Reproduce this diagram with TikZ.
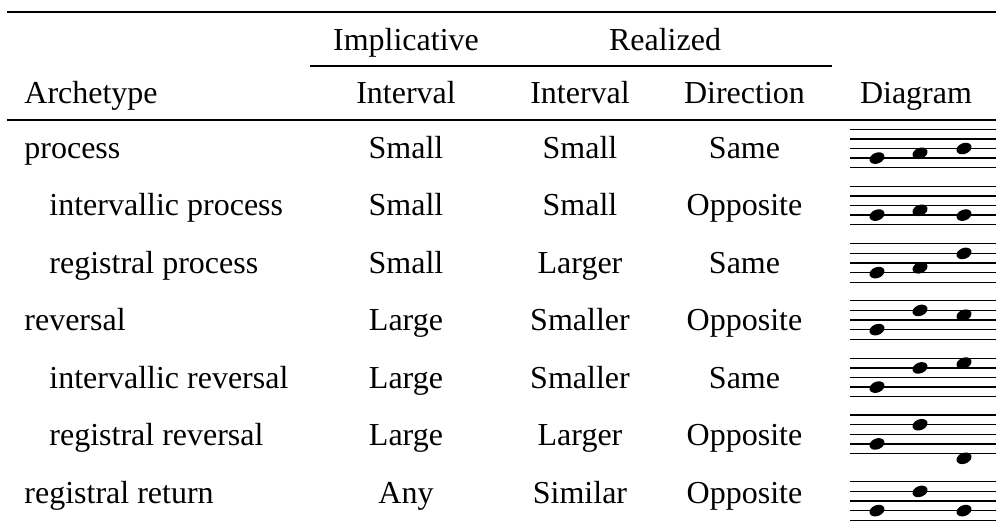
\documentclass[tikz,border=0pt]{standalone}
\usepackage{fontspec}
\setmainfont{Liberation Serif}
\usepackage{tikz}
\tikzset{
  cell/.style={anchor=base, inner sep=0pt, font=\fontsize{16}{19}\selectfont},
  leftcell/.style={cell, anchor=base west},
  tablerule/.style={line width=1pt},
  midrule/.style={line width=0.8pt},
  staffline/.style={line width=0.65pt}
}
% staff: centre y, then the three note positions (0 = bottom line)
\newcommand{\notestaff}[4]{%
  \foreach \k in {0,...,4} {\draw[staffline] (850,#1+\k*9.6-19.2) -- (996,#1+\k*9.6-19.2);}
  \fill[shift={(877,#1+19.2-#2*4.8)},rotate=22] (0,0) ellipse (3.9pt and 2.7pt);
  \fill[shift={(920,#1+19.2-#3*4.8)},rotate=22] (0,0) ellipse (3.9pt and 2.7pt);
  \fill[shift={(964,#1+19.2-#4*4.8)},rotate=22] (0,0) ellipse (3.9pt and 2.7pt);
}

\begin{document}
\begin{tikzpicture}[x=0.5pt,y=-0.5pt]
    \useasboundingbox (0,0) rectangle (996,527);

    % Rules
    \draw[tablerule] (7,12.3) -- (996,12.3);
    \draw[midrule] (310,65.7) -- (832,65.7);
    \draw[tablerule] (7,120) -- (996,120);

    % Header
    \node[cell] (himp) at (406,50) {Implicative};
    \node[cell] (hreal) at (665,50) {Realized};
    \node[leftcell] (harch) at (24,103) {Archetype};
    \node[cell] (himpint) at (406,103) {Interval};
    \node[cell] (hrealint) at (580,103) {Interval};
    \node[cell] (hdir) at (744.5,103) {Direction};
    \node[cell] (hdiag) at (916,103) {Diagram};

    % process
    \node[leftcell] (arch1) at (24,158) {process};
    \node[cell] (imp1) at (406,158) {Small};
    \node[cell] (int1) at (580,158) {Small};
    \node[cell] (dir1) at (744.5,158) {Same};
    \notestaff{148.5}{2}{3}{4}

    % intervallic process
    \node[leftcell] (arch2) at (49,215.5) {intervallic process};
    \node[cell] (imp2) at (406,215.5) {Small};
    \node[cell] (int2) at (580,215.5) {Small};
    \node[cell] (dir2) at (744.5,215.5) {Opposite};
    \notestaff{205.5}{2}{3}{2}

    % registral process
    \node[leftcell] (arch3) at (49,273) {registral process};
    \node[cell] (imp3) at (406,273) {Small};
    \node[cell] (int3) at (580,273) {Larger};
    \node[cell] (dir3) at (744.5,273) {Same};
    \notestaff{263}{2}{3}{6}

    % reversal
    \node[leftcell] (arch4) at (24,330.5) {reversal};
    \node[cell] (imp4) at (406,330.5) {Large};
    \node[cell] (int4) at (580,330.5) {Smaller};
    \node[cell] (dir4) at (744.5,330.5) {Opposite};
    \notestaff{320}{2}{6}{5}

    % intervallic reversal
    \node[leftcell] (arch5) at (49,388) {intervallic reversal};
    \node[cell] (imp5) at (406,388) {Large};
    \node[cell] (int5) at (580,388) {Smaller};
    \node[cell] (dir5) at (744.5,388) {Same};
    \notestaff{377.5}{2}{6}{7}

    % registral reversal
    \node[leftcell] (arch6) at (49,445.5) {registral reversal};
    \node[cell] (imp6) at (406,445.5) {Large};
    \node[cell] (int6) at (580,445.5) {Larger};
    \node[cell] (dir6) at (744.5,445.5) {Opposite};
    \notestaff{434.3}{2}{6}{-1}

    % registral return
    \node[leftcell] (arch7) at (24,503) {registral return};
    \node[cell] (imp7) at (406,503) {Any};
    \node[cell] (int7) at (580,503) {Similar};
    \node[cell] (dir7) at (744.5,503) {Opposite};
    \notestaff{501}{2}{6}{2}
\end{tikzpicture}
\end{document}
